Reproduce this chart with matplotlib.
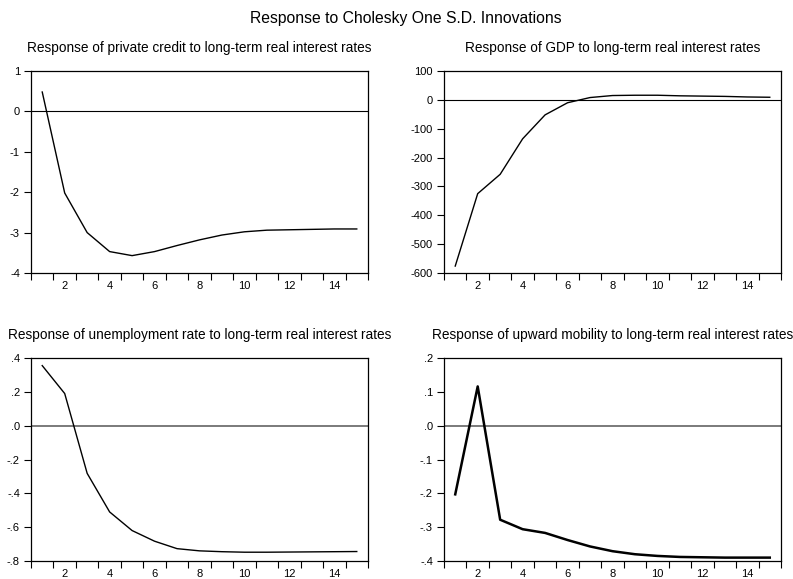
import matplotlib
matplotlib.use("Agg")
import matplotlib.pyplot as plt
from matplotlib.ticker import FixedLocator, FuncFormatter

plt.rcParams['font.family'] = ['Liberation Sans', 'DejaVu Sans']
plt.rcParams['axes.unicode_minus'] = False

periods = list(range(1, 16))

credit = [0.48, -2.02, -3.0, -3.47, -3.57, -3.47, -3.32, -3.18, -3.06, -2.98,
          -2.94, -2.93, -2.92, -2.91, -2.91]
gdp = [-576, -325, -258, -135, -52, -10, 8, 15, 16, 16, 14, 13, 12, 10, 9]
unemployment = [0.355, 0.19, -0.282, -0.51, -0.62, -0.683, -0.727, -0.74,
                -0.745, -0.748, -0.748, -0.747, -0.746, -0.745, -0.744]
mobility = [-0.203, 0.116, -0.278, -0.306, -0.317, -0.338, -0.357, -0.371,
            -0.380, -0.385, -0.388, -0.389, -0.39, -0.39, -0.39]

titles = ["Response of private credit to long-term real interest rates",
          "Response of GDP to long-term real interest rates",
          "Response of unemployment rate to long-term real interest rates",
          "Response of upward mobility to long-term real interest rates"]
series = [credit, gdp, unemployment, mobility]
ylims = [(-4, 1), (-600, 100), (-0.8, 0.4), (-0.4, 0.2)]
yticks = [[-4, -3, -2, -1, 0, 1],
          [-600, -500, -400, -300, -200, -100, 0, 100],
          [-0.8, -0.6, -0.4, -0.2, 0.0, 0.2, 0.4],
          [-0.4, -0.3, -0.2, -0.1, 0.0, 0.1, 0.2]]


def dec_fmt(v, pos):
    s = "%.1f" % v
    s = s.replace("0.", ".")
    return s


W, H = 793, 579
fig = plt.figure(figsize=(W / 100, H / 100), dpi=100)

# axes boxes in pixels: left, right, top, bottom
boxes = [(31, 368, 71, 273), (444, 781, 71, 273),
         (31, 368, 358, 561), (444, 781, 358, 561)]

for i in range(4):
    l, r, t, b = boxes[i]
    ax = fig.add_axes([l / W, 1 - b / H, (r - l) / W, (b - t) / H])
    zero_col = 'black' if i < 2 else '#707070'
    zero_lw = 0.8 if i < 2 else 1.3
    ax.axhline(0, color=zero_col, linewidth=zero_lw, zorder=1)
    lw = 1.0 if i < 3 else 1.8
    ax.plot(periods, series[i], color='black', linewidth=lw, zorder=2)
    ax.set_xlim(0.5, 15.5)
    ax.set_ylim(*ylims[i])
    ax.xaxis.set_major_locator(FixedLocator([2, 4, 6, 8, 10, 12, 14]))
    ax.xaxis.set_minor_locator(FixedLocator([k + 0.5 for k in range(16)]))
    ax.tick_params(axis='x', which='major', length=0, labelsize=8, pad=5.5)
    ax.tick_params(axis='x', which='minor', length=5, width=0.8, direction='out')
    ax.yaxis.set_major_locator(FixedLocator(yticks[i]))
    ax.tick_params(axis='y', which='major', length=5, width=0.8, direction='out',
                   labelsize=8, pad=3)
    if i >= 2:
        ax.yaxis.set_major_formatter(FuncFormatter(dec_fmt))
    for sp in ax.spines.values():
        sp.set_linewidth(0.9)
    ax.set_title(titles[i], fontsize=9.8, pad=14)

fig.text(406 / W, 1 - 18 / H, "Response to Cholesky One S.D. Innovations",
         ha='center', va='center', fontsize=11.3)

fig.savefig("out.png", dpi=100)
